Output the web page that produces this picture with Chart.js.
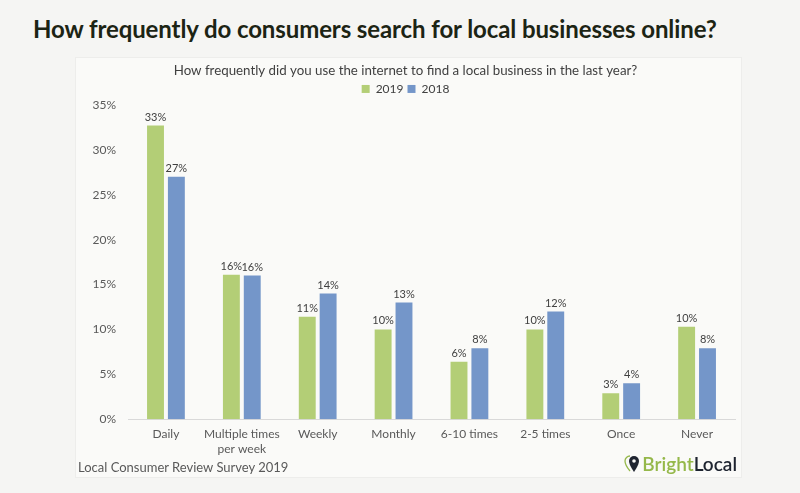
<!DOCTYPE html>
<html>
<head>
<meta charset="utf-8">
<script src="https://cdn.jsdelivr.net/npm/chart.js@4"></script>
<style>
  html, body { margin: 0; padding: 0; }
  body { width: 800px; height: 493px; background: #f5f5f3; position: relative; overflow: hidden; font-family: Lato, "Open Sans", sans-serif; }
  h1 { position: absolute; left: 33px; top: 14px; margin: 0; font-size: 24px; font-weight: 700; color: #1c2414; letter-spacing: -0.1px; white-space: nowrap; }
  #box { position: absolute; left: 75px; top: 57px; width: 667px; height: 421px; background: #fafaf8; border: 1px solid #ededeb; box-sizing: border-box; }
  #wrap { position: absolute; left: 0; top: 0; width: 665px; height: 406px; }
  #source { position: absolute; left: 2px; top: 401px; font-size: 13px; color: #595959; }
  #brand { position: absolute; right: 4px; top: 394px; font-size: 19px; font-weight: 600; white-space: nowrap; }
  #brand .b { color: #95b84a; }
  #brand .l { color: #1e2430; }
  #brand svg { vertical-align: -2px; margin-right: 1px; }
</style>
</head>
<body>
<h1>How frequently do consumers search for local businesses online?</h1>
<div id="box">
  <div id="wrap"><canvas id="chart"></canvas></div>
  <div id="source">Local Consumer Review Survey 2019</div>
  <div id="brand"><svg width="17" height="18" viewBox="0 0 17 18"><path d="M6 1a5 5 0 0 0-5 5c0 4 5 10 5 10" fill="none" stroke="#95b84a" stroke-width="1.3"/><path d="M10 1a5 5 0 0 1 5 5c0 4-5 11-5 11s-5-7-5-11a5 5 0 0 1 5-5z" fill="#1e2430"/><circle cx="10" cy="6" r="1.8" fill="#fafaf8"/></svg><span class="b">Bright</span><span class="l">Local</span></div>
</div>
<script>
// Survey answers, share of respondents (%)
const categories = ["Daily", ["Multiple times", "per week"], "Weekly", "Monthly", "6-10 times", "2-5 times", "Once", "Never"];
const values2019 = [32.7, 16.1, 11.4, 10.0, 6.4, 10.0, 2.9, 10.3];
const values2018 = [27.0, 16.0, 14.0, 13.0, 7.9, 12.0, 4.0, 7.9];
const labels2019 = ["33%", "16%", "11%", "10%", "6%", "10%", "3%", "10%"];
const labels2018 = ["27%", "16%", "14%", "13%", "8%", "12%", "4%", "8%"];
const yTicks = [0, 5, 10, 15, 20, 25, 30, 35];

const GREEN = "#b3ce76";
const BLUE = "#7496c9";

// draws the value text above each bar
const barLabels = {
  id: "barLabels",
  afterDatasetsDraw(chart) {
    const ctx = chart.ctx;
    const texts = [labels2019, labels2018];
    ctx.save();
    ctx.font = "11px Lato, sans-serif";
    ctx.fillStyle = "#404040";
    ctx.textAlign = "center";
    ctx.textBaseline = "bottom";
    chart.data.datasets.forEach((ds, i) => {
      chart.getDatasetMeta(i).data.forEach((bar, j) => {
        ctx.fillText(texts[i][j], bar.x, bar.y - 3);
      });
    });
    ctx.restore();
  }
};

new Chart(document.getElementById("chart"), {
  type: "bar",
  data: {
    labels: categories,
    datasets: [
      { label: "2019", data: values2019, backgroundColor: GREEN },
      { label: "2018", data: values2018, backgroundColor: BLUE },
    ],
  },
  options: {
    responsive: true,
    maintainAspectRatio: false,
    animation: false,
    categoryPercentage: 0.55,
    barPercentage: 0.81,
    layout: { padding: { left: 0, right: 6, top: 0, bottom: 0 } },
    plugins: {
      title: {
        display: true,
        text: "How frequently did you use the internet to find a local business in the last year?",
        color: "#404040",
        font: { family: "Lato, sans-serif", size: 13.3, weight: "normal" },
        padding: { top: 5, bottom: 0 },
      },
      legend: {
        display: true,
        labels: { boxWidth: 8, boxHeight: 8, color: "#404040", font: { family: "Lato, sans-serif", size: 12 }, padding: 4 },
      },
      tooltip: { enabled: false },
    },
    scales: {
      x: {
        grid: { display: false, drawTicks: false },
        border: { color: "#d9d9d9" },
        ticks: { color: "#595959", font: { family: "Lato, sans-serif", size: 12 }, maxRotation: 0, autoSkip: false, padding: 8 },
      },
      y: {
        min: 0,
        max: 35,
        afterBuildTicks(axis) { axis.ticks = yTicks.map(v => ({ value: v })); },
        afterFit(axis) { axis.width = 52; },
        grid: { display: false, drawTicks: false },
        border: { display: false },
        ticks: { color: "#595959", font: { family: "Lato, sans-serif", size: 12 }, padding: 12, callback: v => v + "%" },
      },
    },
  },
  plugins: [barLabels],
});
</script>
</body>
</html>
